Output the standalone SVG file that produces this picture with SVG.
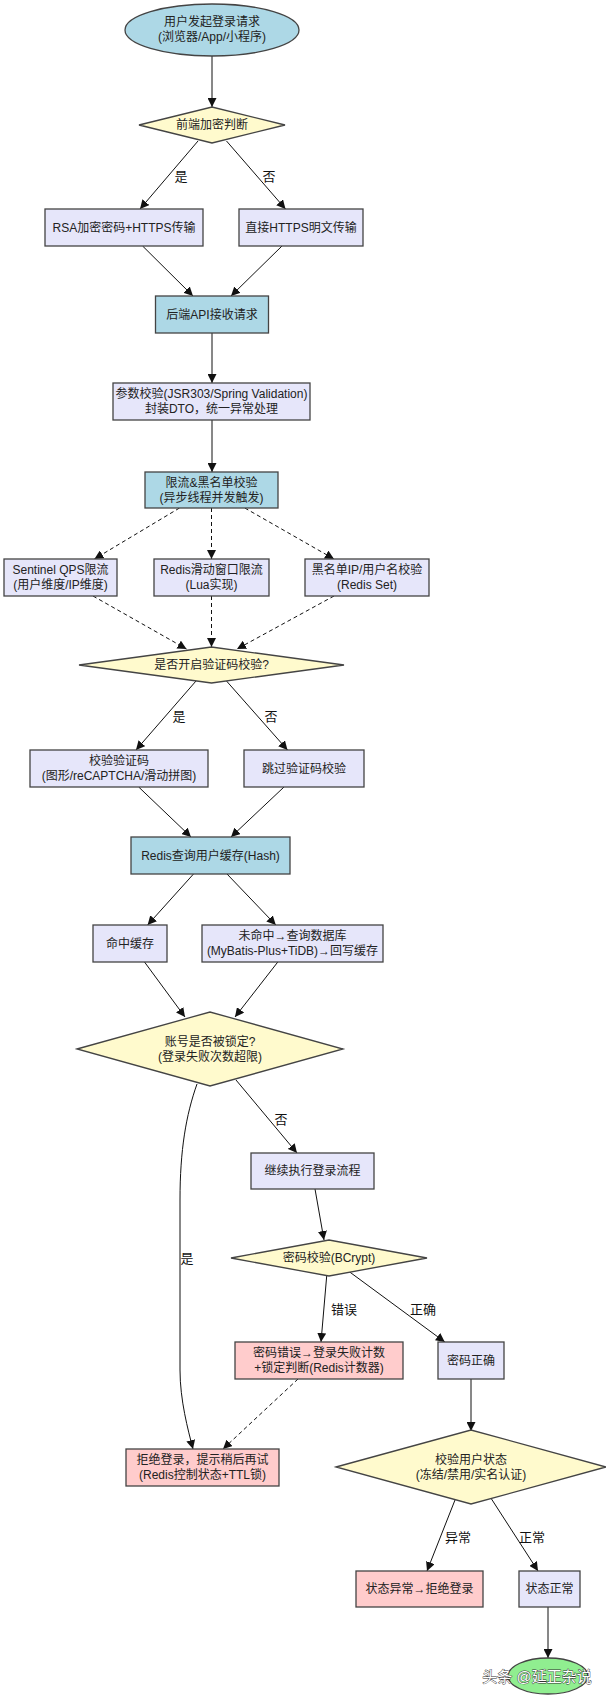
<svg xmlns="http://www.w3.org/2000/svg" width="606" height="1698" viewBox="0 0 606 1698">
<style>
text{font-family:"Liberation Sans","Noto Sans CJK SC",sans-serif;font-size:12px;fill:#222;text-anchor:middle;dominant-baseline:central}
.lbl{font-size:13px;fill:#111}
.box{stroke:#444;stroke-width:1.3}
.blue{fill:#ADD8E6}.lav{fill:#E6E6FA}.dia{fill:#FFFACD}.pink{fill:#FFCCCC}.green{fill:#90EE90}
.e{fill:none;stroke:#111;stroke-width:1;marker-end:url(#ah)}
.d{stroke-dasharray:4,3}
.wm{font-size:15px;fill:#fff;stroke:#333;stroke-width:0.8;paint-order:stroke}
</style>
<defs>
<marker id="ah" viewBox="0 0 10 10" refX="10" refY="5" markerWidth="9" markerHeight="9" markerUnits="userSpaceOnUse" orient="auto">
<path d="M0,0 L10,5 L0,10 z" fill="#111"/>
</marker>
</defs>
<rect width="606" height="1698" fill="#fff"/>
<g id="edges">
<path class="e" d="M212,56 L212,107"/>
<path class="e" d="M198,141 L140,209"/>
<path class="e" d="M226.5,141 L285.5,209"/>
<path class="e" d="M142.6,246 L193,296"/>
<path class="e" d="M282,246 L231,296"/>
<path class="e" d="M212,333 L212,383"/>
<path class="e" d="M212,420 L212,472"/>
<path class="e d" d="M179.5,508 L94.4,559"/>
<path class="e d" d="M211.5,508 L211.5,559"/>
<path class="e d" d="M244.8,508 L334,559"/>
<path class="e d" d="M93,596 L186.5,649"/>
<path class="e d" d="M211.5,596 L211.5,647"/>
<path class="e d" d="M334,596 L237,649"/>
<path class="e" d="M196,681 L136,750"/>
<path class="e" d="M226.5,681 L287.5,750"/>
<path class="e" d="M138.7,787 L191,837"/>
<path class="e" d="M284,787 L231,837"/>
<path class="e" d="M193.5,874 L147.6,925"/>
<path class="e" d="M227,874 L275.8,925"/>
<path class="e" d="M144.5,962 L185,1017"/>
<path class="e" d="M277.8,962 L235,1017"/>
<path class="e" d="M236,1080 L297,1153"/>
<path class="e" d="M197,1084 C186,1115 180,1150 180,1200 L180,1370 C180,1400 188,1430 193,1449"/>
<path class="e" d="M315,1189 L324,1240"/>
<path class="e" d="M326.7,1276 L321,1342"/>
<path class="e" d="M349.7,1272 L444.8,1342"/>
<path class="e d" d="M298,1379 L223,1449"/>
<path class="e" d="M471,1379 L471,1431"/>
<path class="e" d="M455,1500 L427,1571"/>
<path class="e" d="M491.5,1499 L538,1571"/>
<path class="e" d="M548,1607 L548,1658"/>
<text class="lbl" x="181" y="176">是</text>
<text class="lbl" x="269" y="176">否</text>
<text class="lbl" x="179" y="716">是</text>
<text class="lbl" x="271" y="716">否</text>
<text class="lbl" x="281" y="1119">否</text>
<text class="lbl" x="187" y="1258">是</text>
<text class="lbl" x="344" y="1309">错误</text>
<text class="lbl" x="423" y="1309">正确</text>
<text class="lbl" x="458" y="1537">异常</text>
<text class="lbl" x="532" y="1537">正常</text>
</g>
<g id="n1"><ellipse class="box blue" cx="212" cy="30" rx="87" ry="26"/><text x="212" y="22">用户发起登录请求</text><text x="212" y="37">(浏览器/App/小程序)</text></g>
<g id="n2"><polygon class="box dia" points="139,125 212,107 285,125 212,143"/><text x="212" y="125">前端加密判断</text></g>
<g id="n3"><rect class="box lav" x="45" y="209" width="158" height="37"/><text x="124" y="227.5">RSA加密密码+HTTPS传输</text></g>
<g id="n4"><rect class="box lav" x="239" y="209" width="124" height="37"/><text x="301" y="227.5">直接HTTPS明文传输</text></g>
<g id="n5"><rect class="box blue" x="155.5" y="296" width="113" height="37"/><text x="212" y="314.5">后端API接收请求</text></g>
<g id="n6"><rect class="box lav" x="113" y="383" width="197" height="37"/><text x="211.5" y="394">参数校验(JSR303/Spring Validation)</text><text x="211.5" y="409">封装DTO，统一异常处理</text></g>
<g id="n7"><rect class="box blue" x="145" y="472" width="133" height="36"/><text x="211.5" y="482.5">限流&amp;黑名单校验</text><text x="211.5" y="497.5">(异步线程并发触发)</text></g>
<g id="n8"><rect class="box lav" x="4" y="559" width="113" height="37"/><text x="60.5" y="570">Sentinel QPS限流</text><text x="60.5" y="585">(用户维度/IP维度)</text></g>
<g id="n9"><rect class="box lav" x="154" y="559" width="115" height="37"/><text x="211.5" y="570">Redis滑动窗口限流</text><text x="211.5" y="585">(Lua实现)</text></g>
<g id="n10"><rect class="box lav" x="305" y="559" width="124" height="37"/><text x="367" y="570">黑名单IP/用户名校验</text><text x="367" y="585">(Redis Set)</text></g>
<g id="n11"><polygon class="box dia" points="79,665 211.5,647 344,665 211.5,683"/><text x="211.5" y="665">是否开启验证码校验?</text></g>
<g id="n12"><rect class="box lav" x="30" y="750" width="178" height="37"/><text x="119" y="761">校验验证码</text><text x="119" y="776">(图形/reCAPTCHA/滑动拼图)</text></g>
<g id="n13"><rect class="box lav" x="244" y="750" width="120" height="37"/><text x="304" y="768.5">跳过验证码校验</text></g>
<g id="n14"><rect class="box blue" x="131" y="837" width="159" height="37"/><text x="210.5" y="855.5">Redis查询用户缓存(Hash)</text></g>
<g id="n15"><rect class="box lav" x="93" y="925" width="74" height="37"/><text x="130" y="943.5">命中缓存</text></g>
<g id="n16"><rect class="box lav" x="202" y="925" width="181" height="37"/><text x="292.5" y="936">未命中→查询数据库</text><text x="292.5" y="951">(MyBatis-Plus+TiDB)→回写缓存</text></g>
<g id="n17"><polygon class="box dia" points="77,1049 210,1012 343,1049 210,1086"/><text x="210" y="1042">账号是否被锁定?</text><text x="210" y="1057">(登录失败次数超限)</text></g>
<g id="n18"><rect class="box lav" x="251" y="1153" width="123" height="36"/><text x="312.5" y="1171">继续执行登录流程</text></g>
<g id="n19"><polygon class="box dia" points="231,1258 329,1240 427,1258 329,1276"/><text x="329" y="1258">密码校验(BCrypt)</text></g>
<g id="n20"><rect class="box pink" x="235" y="1342" width="168" height="37"/><text x="319" y="1353">密码错误→登录失败计数</text><text x="319" y="1368">+锁定判断(Redis计数器)</text></g>
<g id="n21"><rect class="box lav" x="438" y="1342" width="66" height="37"/><text x="471" y="1360.5">密码正确</text></g>
<g id="n22"><rect class="box pink" x="126" y="1449" width="153" height="37"/><text x="202.5" y="1460">拒绝登录，提示稍后再试</text><text x="202.5" y="1475">(Redis控制状态+TTL锁)</text></g>
<g id="n23"><polygon class="box dia" points="336,1467 471,1430 606,1467 471,1504"/><text x="471" y="1460">校验用户状态</text><text x="471" y="1475">(冻结/禁用/实名认证)</text></g>
<g id="n24"><rect class="box pink" x="356" y="1571" width="127" height="36"/><text x="419.5" y="1589">状态异常→拒绝登录</text></g>
<g id="n25"><rect class="box lav" x="519" y="1571" width="61" height="36"/><text x="549.5" y="1589">状态正常</text></g>
<g id="n26"><ellipse class="box green" cx="548" cy="1676" rx="40" ry="18"/></g>
<text class="wm" x="537" y="1676">头条 @延正杂说</text>
</svg>
